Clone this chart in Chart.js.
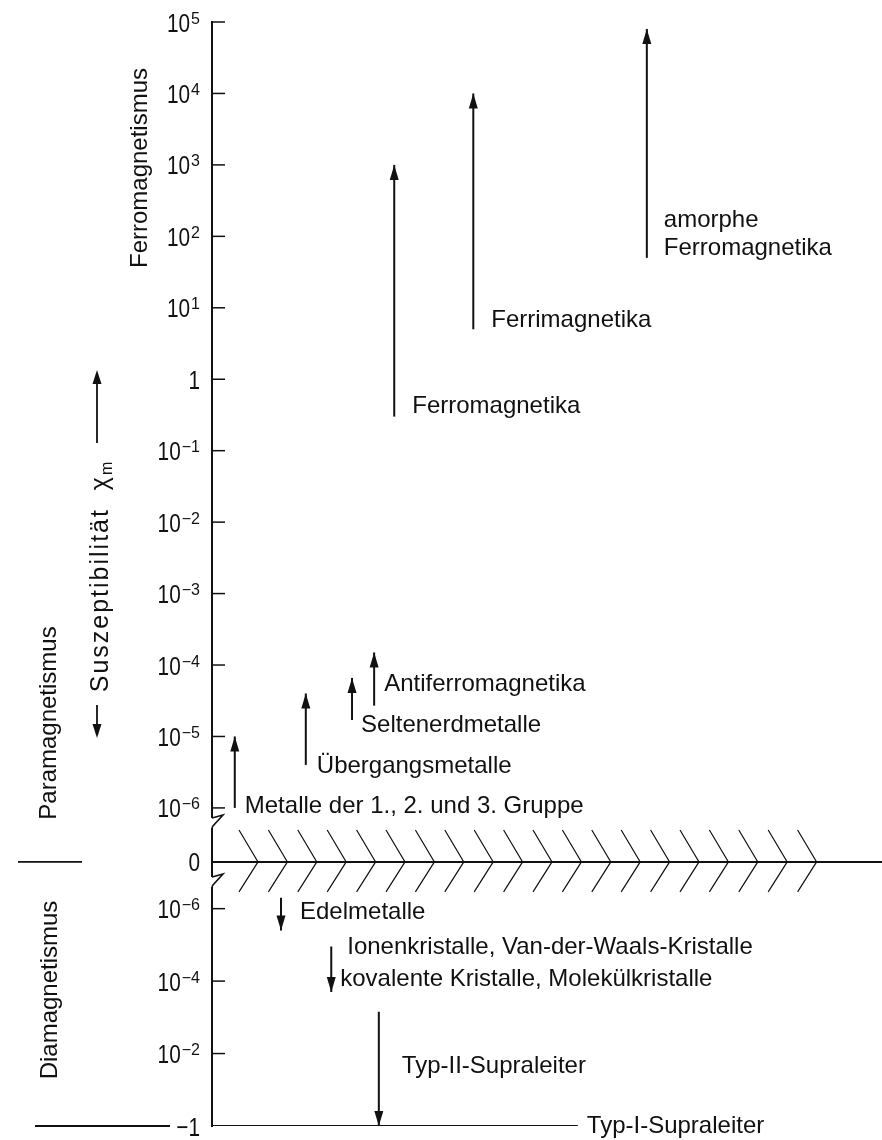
<!DOCTYPE html>
<html lang="de">
<head>
<meta charset="utf-8">
<title>Magnetische Suszeptibilität</title>
<script src="https://cdn.jsdelivr.net/npm/chart.js@4.4.1/dist/chart.umd.min.js"></script>
<style>
  html, body { margin: 0; padding: 0; background: #fff; }
  #chart { display: block; }
</style>
</head>
<body>
<canvas id="chart" width="882" height="1140"></canvas>
<script>
// Teilstriche: oben +10^k, unten -10^k
const posExponenten = [5, 4, 3, 2, 1, 0, -1, -2, -3, -4, -5, -6];
const negExponenten = [-6, -4, -2, 0];

// Stoffklassen mit Pfeil (von -> bis, Werte von chi_m)
const klassen = [
    'Metalle der 1., 2. und 3. Gruppe',
    'Übergangsmetalle',
    'Seltenerdmetalle',
    'Antiferromagnetika',
    'Ferromagnetika',
    'Ferrimagnetika',
    ['amorphe', 'Ferromagnetika'],
    'Edelmetalle',
    ['Ionenkristalle, Van-der-Waals-Kristalle', 'kovalente Kristalle, Molekülkristalle'],
    'Typ-II-Supraleiter'
];
const spalte = [3.4, 14.0, 20.9, 24.2, 27.2, 39.0, 64.9, 10.3, 17.8, 24.9];
const chiVon = [1e-6, 4e-6, 1.7e-5, 2.7e-5, 0.3, 5, 50, -5e-7, -1.1e-5, -7e-4];
const chiBis = [1e-5, 4e-5, 6.6e-5, 1.5e-4, 1e3, 1e4, 8e4, -4e-6, -2e-4, -1];

// Typ-I-Supraleiter: chi = -1
const typIName = 'Typ-I-Supraleiter';
const typIChi = -1;
const typISpalten = [0, 54.6];

// Lage der Beschriftungen relativ zum Pfeilanfang (px)
const beschriftungLage = [
    [[10, -2]],
    [[11, 1]],
    [[9, 5]],
    [[10, -21]],
    [[18, -10]],
    [[18, -9]],
    [[17, -37], [17, -9]],
    [[19, 15]],
    [[16, 1], [9, 33]],
    [[23, 55]]
];

const SCHRIFT = '"Liberation Sans", Arial, sans-serif';
const TINTE = '#111';

// Achse: oben eine Dekade pro Einheit, unten gestaucht, dazwischen die 0
function achse(chi) {
    if (chi > 0) return Math.log10(chi) + 6;
    if (chi === 0) return -0.756;
    return -1.41 - (Math.log10(-chi) + 6) * 0.507;
}

function hochText(k) {
    return k < 0 ? '\u2212' + (-k) : String(k);
}

const tickWerte = [];
const tickBeschriftung = [];
posExponenten.forEach(k => {
    tickWerte.push(achse(Math.pow(10, k)));
    tickBeschriftung.push(k === 0 ? { basis: '1', hoch: '' } : { basis: '10', hoch: hochText(k) });
});
tickWerte.push(achse(0));
tickBeschriftung.push({ basis: '0', hoch: '' });
negExponenten.forEach(k => {
    tickWerte.push(achse(-Math.pow(10, k)));
    tickBeschriftung.push(k === 0 ? { basis: '\u22121', hoch: '' } : { basis: '10', hoch: hochText(k) });
});

function pfeilspitze(ctx, x0, y0, x1, y1, len, halb) {
    const d = Math.hypot(x1 - x0, y1 - y0);
    const ux = (x1 - x0) / d, uy = (y1 - y0) / d;
    const bx = x1 - ux * len, by = y1 - uy * len;
    ctx.beginPath();
    ctx.moveTo(x1, y1);
    ctx.lineTo(bx - uy * halb, by + ux * halb);
    ctx.lineTo(bx + uy * halb, by - ux * halb);
    ctx.closePath();
    ctx.fill();
}

function senkrecht(ctx, text, cx, cy, font) {
    ctx.save();
    ctx.translate(cx, cy);
    ctx.rotate(-Math.PI / 2);
    ctx.font = font;
    ctx.textAlign = 'center';
    ctx.textBaseline = 'middle';
    ctx.fillText(text, 0, 0);
    ctx.restore();
}

const datasets = klassen.map((name, i) => ({
    label: Array.isArray(name) ? name.join(' ') : name,
    data: [{ x: spalte[i], y: achse(chiVon[i]) }, { x: spalte[i], y: achse(chiBis[i]) }],
    showLine: true,
    borderColor: TINTE,
    borderWidth: 2,
    pointRadius: 0,
    pfeil: i
}));
datasets.push({
    label: 'Null',
    data: [{ x: 0, y: achse(0) }, { x: 100, y: achse(0) }],
    showLine: true, borderColor: TINTE, borderWidth: 2, pointRadius: 0
});
datasets.push({
    label: typIName,
    data: typISpalten.map(x => ({ x: x, y: achse(typIChi) })),
    showLine: true, borderColor: TINTE, borderWidth: 2, pointRadius: 0, typI: true
});

const dekoPlugin = {
    id: 'deko',
    afterDatasetsDraw(chart) {
        const ctx = chart.ctx;
        const y = chart.scales.y;
        const area = chart.chartArea;
        const ax = area.left;
        ctx.save();
        ctx.fillStyle = TINTE;
        ctx.strokeStyle = TINTE;

        // Teilstriche nach innen
        ctx.lineWidth = 1.5;
        y.ticks.forEach((t, i) => {
            const lab = tickBeschriftung[i];
            if (lab.basis === '0' || lab.basis === '\u22121') return;
            const py = y.getPixelForValue(t.value);
            ctx.beginPath();
            ctx.moveTo(ax, py);
            ctx.lineTo(ax + 13, py);
            ctx.stroke();
        });

        // Beschriftung der Teilstriche mit Hochzahl
        const SX = 0.8;
        y.ticks.forEach((t, i) => {
            const lab = tickBeschriftung[i];
            const py = y.getPixelForValue(t.value);
            ctx.font = '26px ' + SCHRIFT;
            const wb = ctx.measureText(lab.basis).width * SX;
            ctx.font = '16px ' + SCHRIFT;
            const wh = lab.hoch ? ctx.measureText(lab.hoch).width + 1 : 0;
            const x0 = ax - 12 - wb - wh;
            ctx.textAlign = 'left';
            ctx.textBaseline = 'alphabetic';
            ctx.save();
            ctx.translate(x0, py + 9.5);
            ctx.scale(SX, 1);
            ctx.font = '26px ' + SCHRIFT;
            ctx.fillText(lab.basis, 0, 0);
            ctx.restore();
            if (lab.hoch) {
                ctx.font = '16px ' + SCHRIFT;
                ctx.fillText(lab.hoch, x0 + wb + 1, py + 1.5);
            }
        });

        // Achsenbrueche
        const brueche = [y.getPixelForValue(achse(1e-6)) + 15, y.getPixelForValue(achse(0)) + 20];
        brueche.forEach(yb => {
            ctx.fillStyle = '#fff';
            ctx.fillRect(ax - 2, yb - 5, 4, 10);
            ctx.fillStyle = TINTE;
            ctx.lineWidth = 1.6;
            ctx.beginPath();
            ctx.moveTo(ax, yb - 5);
            ctx.lineTo(ax + 11, yb - 8);
            ctx.lineTo(ax + 1, yb + 3);
            ctx.lineTo(ax, yb + 5);
            ctx.stroke();
        });

        // Schraffur an der Nulllinie
        const y0 = y.getPixelForValue(achse(0));
        ctx.lineWidth = 1.2;
        for (let xs = ax + 46; xs < area.left + 610; xs += 29.4) {
            ctx.beginPath();
            ctx.moveTo(xs - 19, y0 - 32);
            ctx.lineTo(xs, y0);
            ctx.lineTo(xs - 19, y0 + 30);
            ctx.stroke();
        }

        // Pfeilspitzen und Beschriftungen
        chart.data.datasets.forEach((ds, di) => {
            const meta = chart.getDatasetMeta(di);
            const p0 = meta.data[0], p1 = meta.data[meta.data.length - 1];
            if (ds.pfeil !== undefined) {
                pfeilspitze(ctx, p0.x, p0.y, p1.x, p1.y, 15, 4.5);
                const name = klassen[ds.pfeil];
                const zeilen = Array.isArray(name) ? name : [name];
                ctx.font = '24px ' + SCHRIFT;
                ctx.textAlign = 'left';
                ctx.textBaseline = 'middle';
                zeilen.forEach((z, zi) => {
                    const lage = beschriftungLage[ds.pfeil][zi];
                    ctx.fillText(z, p0.x + lage[0], p0.y + lage[1]);
                });
            }
            if (ds.typI) {
                ctx.font = '24px ' + SCHRIFT;
                ctx.textAlign = 'left';
                ctx.textBaseline = 'middle';
                ctx.fillText(typIName, p1.x + 9, p1.y);
            }
        });

        // linke Seite
        const yMinus1 = y.getPixelForValue(achse(typIChi));
        ctx.lineWidth = 1.8;
        ctx.beginPath();
        ctx.moveTo(18, y0); ctx.lineTo(82, y0);
        ctx.moveTo(35, yMinus1); ctx.lineTo(170, yMinus1);
        ctx.stroke();

        senkrecht(ctx, 'Ferromagnetismus', 140, 168, '24px ' + SCHRIFT);
        senkrecht(ctx, 'Paramagnetismus', 49, 723, '24px ' + SCHRIFT);
        senkrecht(ctx, 'Diamagnetismus', 50, 990, '24px ' + SCHRIFT);

        // Suszeptibilitaet mit Pfeilen
        ctx.lineWidth = 1.8;
        ctx.beginPath();
        ctx.moveTo(97, 443); ctx.lineTo(97, 380);
        ctx.moveTo(97, 705); ctx.lineTo(97, 728);
        ctx.stroke();
        pfeilspitze(ctx, 97, 443, 97, 370, 14, 4.5);
        pfeilspitze(ctx, 97, 705, 97, 738, 14, 4.5);

        ctx.save();
        ctx.translate(101, 576);
        ctx.rotate(-Math.PI / 2);
        ctx.textBaseline = 'middle';
        ctx.textAlign = 'left';
        ctx.font = '25px ' + SCHRIFT;
        if ('letterSpacing' in ctx) ctx.letterSpacing = '2px';
        const haupt = 'Suszeptibilit\u00e4t  \u03c7';
        const wHaupt = ctx.measureText(haupt).width;
        ctx.font = '16px ' + SCHRIFT;
        const wSub = ctx.measureText('m').width;
        const start = -(wHaupt + wSub) / 2;
        ctx.font = '25px ' + SCHRIFT;
        ctx.fillText(haupt, start, 0);
        if ('letterSpacing' in ctx) ctx.letterSpacing = '0px';
        ctx.font = '16px ' + SCHRIFT;
        ctx.fillText('m', start + wHaupt, 7);
        ctx.restore();

        ctx.restore();
    }
};

const ctx = document.getElementById('chart').getContext('2d');
new Chart(ctx, {
    type: 'scatter',
    data: { datasets: datasets },
    options: {
        responsive: false,
        animation: false,
        devicePixelRatio: 1,
        layout: { padding: { left: 0, right: 0, top: 22, bottom: 14 } },
        scales: {
            x: { type: 'linear', min: 0, max: 100, display: false },
            y: {
                type: 'linear',
                position: 'left',
                min: achse(typIChi),
                max: achse(1e5),
                afterFit: s => { s.width = 212; },
                afterBuildTicks: s => { s.ticks = tickWerte.map(v => ({ value: v })); },
                ticks: { display: false },
                grid: { display: false },
                border: { display: true, color: TINTE, width: 2 }
            }
        },
        plugins: {
            legend: { display: false },
            tooltip: { enabled: false }
        }
    },
    plugins: [dekoPlugin]
});
</script>
</body>
</html>
